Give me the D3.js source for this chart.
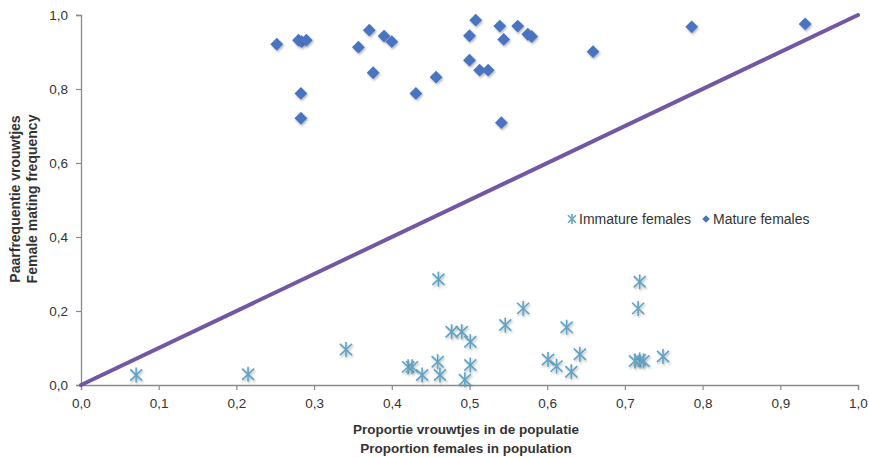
<!DOCTYPE html>
<html><head><meta charset="utf-8">
<script src="https://cdn.jsdelivr.net/npm/d3@7"></script>
<style>body{margin:0;background:#fff;}svg{display:block;}</style>
</head><body>
<script>
const xTicks = [0,0.1,0.2,0.3,0.4,0.5,0.6,0.7,0.8,0.9,1.0];
const yTicks = [0,0.2,0.4,0.6,0.8,1.0];
const matureX = [0.252,0.280,0.284,0.290,0.283,0.283,0.357,0.371,0.390,0.400,0.376,0.431,0.457,0.508,0.500,0.500,0.513,0.524,0.539,0.544,0.562,0.575,0.580,0.541,0.659,0.786,0.932];
const matureY = [0.921,0.932,0.928,0.932,0.788,0.721,0.913,0.959,0.943,0.928,0.844,0.788,0.832,0.986,0.944,0.878,0.851,0.851,0.970,0.934,0.970,0.948,0.942,0.709,0.901,0.968,0.976];
const immatureX = [0.071,0.215,0.341,0.421,0.426,0.439,0.459,0.462,0.460,0.477,0.490,0.501,0.501,0.494,0.546,0.569,0.601,0.612,0.625,0.631,0.642,0.719,0.717,0.713,0.719,0.724,0.749];
const immatureY = [0.027,0.029,0.096,0.049,0.049,0.027,0.063,0.027,0.286,0.144,0.144,0.117,0.054,0.014,0.162,0.207,0.069,0.051,0.156,0.036,0.083,0.279,0.207,0.065,0.068,0.065,0.077];
const lineX = [0,1];
const lineY = [0,1];
const seriesNames = ["Immature females","Mature females"];

const W=869,H=457;
const svg=d3.select("body").append("svg").attr("width",W).attr("height",H);
const x=d3.scaleLinear().domain([0,1]).range([81,858]);
const y=d3.scaleLinear().domain([0,1]).range([385,15]);
const font="'Liberation Sans',Arial,sans-serif";
const axisCol="#8a8a8a", textCol="#333";

const defs=svg.append("defs");
const f=defs.append("filter").attr("id","sh").attr("x","-50%").attr("y","-50%").attr("width","200%").attr("height","200%");
f.append("feDropShadow").attr("dx",1).attr("dy",1.5).attr("stdDeviation",1.3).attr("flood-color","#000").attr("flood-opacity",0.3);

// axes
const xa=svg.append("g").attr("transform",`translate(0,${y(0)})`)
  .call(d3.axisBottom(x).tickValues(xTicks).tickSize(5).tickPadding(8).tickFormat(d=>d3.format(".1f")(d).replace(".",",")));
const ya=svg.append("g").attr("transform",`translate(${x(0)},0)`)
  .call(d3.axisLeft(y).tickValues(yTicks).tickSize(5).tickPadding(8).tickFormat(d=>d3.format(".1f")(d).replace(".",",")));
[xa,ya].forEach(a=>{
  a.select(".domain").attr("stroke",axisCol).attr("stroke-width",1.3);
  a.selectAll(".tick line").attr("stroke",axisCol).attr("stroke-width",1.2);
  a.selectAll(".tick text").attr("fill",textCol).style("font-family",font).style("font-size","13.5px");
});

// diagonal line
svg.append("path").datum(lineX.map((d,i)=>[d,lineY[i]]))
  .attr("d",d3.line().x(d=>x(d[0])).y(d=>y(d[1])))
  .attr("stroke","#7257a3").attr("stroke-width",4).attr("fill","none").attr("stroke-linecap","round");

// immature asterisks
const star=(g,s,col)=>{
  g.append("line").attr("x1",0).attr("y1",-s).attr("x2",0).attr("y2",s);
  g.append("line").attr("x1",-s*0.8).attr("y1",-s*0.75).attr("x2",s*0.8).attr("y2",s*0.75);
  g.append("line").attr("x1",-s*0.8).attr("y1",s*0.75).attr("x2",s*0.8).attr("y2",-s*0.75);
  g.selectAll("line").attr("stroke",col).attr("stroke-width",1.6);
};
const immCol="#5fa3c4";
svg.append("g").selectAll("g").data(immatureX.map((d,i)=>[d,immatureY[i]])).join("g")
  .attr("transform",d=>`translate(${x(d[0])},${y(d[1])})`)
  .attr("filter","url(#sh)")
  .each(function(){star(d3.select(this),7.5,immCol);});

// mature diamonds
const matCol="#4a74c0";
const diamond=d3.symbol().type(d3.symbolDiamond2).size(105);
svg.append("g").selectAll("path").data(matureX.map((d,i)=>[d,matureY[i]])).join("path")
  .attr("transform",d=>`translate(${x(d[0])},${y(d[1])})`)
  .attr("d",diamond).attr("fill",matCol).attr("filter","url(#sh)");

// legend
const lg=svg.append("g");
const s1=lg.append("g").attr("transform","translate(572,219)");
star(s1,5,immCol);
lg.append("text").attr("x",579).attr("y",224).text(seriesNames[0]);
lg.append("path").attr("transform","translate(706,219)").attr("d",d3.symbol().type(d3.symbolDiamond2).size(36)).attr("fill",matCol);
lg.append("text").attr("x",713).attr("y",224).text(seriesNames[1]);
lg.selectAll("text").attr("fill",textCol).style("font-family",font).style("font-size","14px");

// axis titles
const xt=svg.append("g").style("font-family",font).style("font-size","13.5px").style("font-weight","bold").attr("fill",textCol).attr("text-anchor","middle");
xt.append("text").attr("x",466).attr("y",434).text("Proportie vrouwtjes in de populatie");
xt.append("text").attr("x",466).attr("y",453).text("Proportion females in population");
const yt=svg.append("g").style("font-family",font).style("font-size","14px").style("font-weight","bold").attr("fill",textCol).attr("text-anchor","middle")
  .attr("transform","translate(0,199) rotate(-90)");
yt.append("text").attr("x",0).attr("y",20).text("Paarfrequentie vrouwtjes");
yt.append("text").attr("x",0).attr("y",37).text("Female mating frequency");
</script>
</body></html>
